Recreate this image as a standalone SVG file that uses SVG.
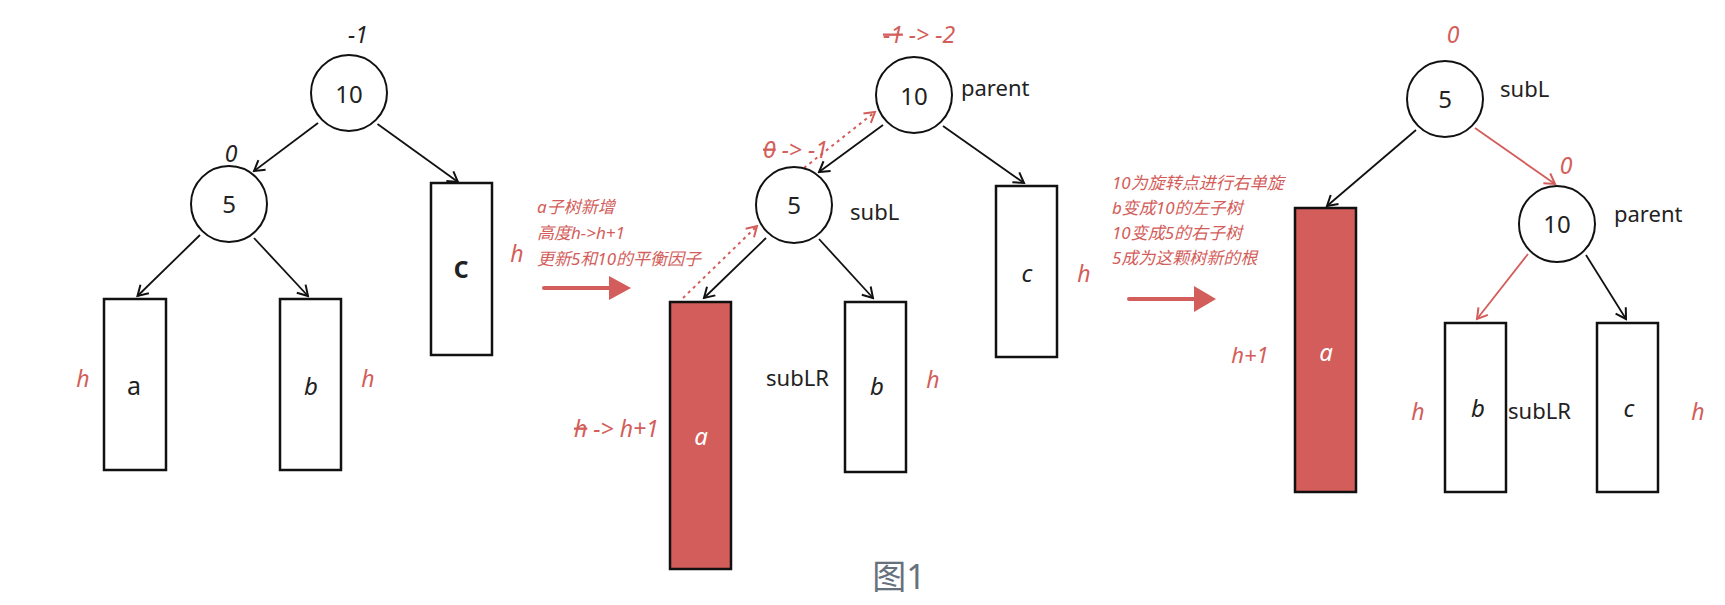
<svg xmlns="http://www.w3.org/2000/svg" width="1725" height="605" viewBox="0 0 1725 605">
<style>
.nd{fill:#fff;stroke:#111;stroke-width:2}
.bx{fill:#fff;stroke:#111;stroke-width:2.5}
.bxr{fill:#d35d5a;stroke:#111;stroke-width:2.5}
.t{font-family:"Noto Sans","Noto Sans CJK SC",sans-serif;fill:#222}
.num{font-size:24px;text-anchor:middle}
.lbl{font-size:22px}
.it{font-style:italic}
.red{fill:#d35d5a}
.note{font-size:17px;font-style:italic;fill:#d35d5a}
.e{fill:none;stroke:#111;stroke-width:1.8}
.er{fill:none;stroke:#d35d5a;stroke-width:1.8}
.ed{fill:none;stroke:#d35d5a;stroke-width:2;stroke-dasharray:3 4}
</style>
<defs>
<marker id="ah" viewBox="-12 -8 14 16" markerWidth="14" markerHeight="16" refX="0" refY="0" orient="auto" markerUnits="userSpaceOnUse"><path d="M-10,-6 L0,0 L-10,6" fill="none" stroke="#111" stroke-width="2"/></marker>
<marker id="ahr" viewBox="-12 -8 14 16" markerWidth="14" markerHeight="16" refX="0" refY="0" orient="auto" markerUnits="userSpaceOnUse"><path d="M-10,-6 L0,0 L-10,6" fill="none" stroke="#d35d5a" stroke-width="2"/></marker>
</defs>
<rect width="1725" height="605" fill="#fff"/>

<g id="connectors">
<line class="e" x1="318" y1="123" x2="254" y2="171" marker-end="url(#ah)"/>
<line class="e" x1="377.5" y1="124" x2="458" y2="182" marker-end="url(#ah)"/>
<line class="e" x1="200" y1="235" x2="137.5" y2="296" marker-end="url(#ah)"/>
<line class="e" x1="254" y1="238" x2="308" y2="296" marker-end="url(#ah)"/>

<line class="e" x1="883" y1="125" x2="819" y2="172" marker-end="url(#ah)"/>
<line class="e" x1="943" y1="126" x2="1024" y2="183" marker-end="url(#ah)"/>
<line class="e" x1="766" y1="238" x2="704" y2="298" marker-end="url(#ah)"/>
<line class="e" x1="819" y1="239" x2="873" y2="298" marker-end="url(#ah)"/>
<line class="ed" x1="683" y1="298" x2="757" y2="226" marker-end="url(#ahr)"/>
<line class="ed" x1="804" y1="168" x2="875" y2="112" marker-end="url(#ahr)"/>

<line class="e" x1="1416" y1="130" x2="1327" y2="206" marker-end="url(#ah)"/>
<line class="er" x1="1475" y1="128" x2="1555" y2="184" marker-end="url(#ahr)"/>
<line class="er" x1="1528" y1="254" x2="1477" y2="319" marker-end="url(#ahr)"/>
<line class="e" x1="1586" y1="255" x2="1626" y2="319" marker-end="url(#ah)"/>

<line x1="544" y1="288" x2="612" y2="288" stroke="#d35d5a" stroke-width="4" stroke-linecap="round"/>
<polygon points="609,276 631,288 609,300" fill="#d35d5a"/>
<line x1="1129" y1="299" x2="1196" y2="299" stroke="#d35d5a" stroke-width="4" stroke-linecap="round"/>
<polygon points="1194,286 1216,299 1194,312" fill="#d35d5a"/>
</g>

<!-- Panel 1 -->
<g id="p1-n10">
<circle class="nd" cx="349" cy="93" r="38"/>
<text class="t num" x="349" y="103">10</text>
<text class="t it" x="358" y="43" font-size="23" text-anchor="middle">-1</text>
</g>
<g id="p1-n5">
<circle class="nd" cx="229" cy="204" r="38"/>
<text class="t num" x="229" y="213">5</text>
<text class="t it" x="231" y="162" font-size="23" text-anchor="middle">0</text>
</g>
<g id="p1-a">
<rect class="bx" x="104" y="299" width="62" height="171"/>
<text class="t" x="134" y="395" font-size="25" text-anchor="middle">a</text>
<text class="t it red" x="83" y="387" font-size="23" text-anchor="middle">h</text>
</g>
<g id="p1-b">
<rect class="bx" x="280" y="299" width="61" height="171"/>
<text class="t it" x="311" y="395" font-size="24" text-anchor="middle">b</text>
<text class="t it red" x="368" y="387" font-size="23" text-anchor="middle">h</text>
</g>
<g id="p1-c">
<rect class="bx" x="431" y="183" width="61" height="172"/>
<text class="t" x="461" y="278" font-size="30" font-weight="600" text-anchor="middle">c</text>
<text class="t it red" x="517" y="262" font-size="23" text-anchor="middle">h</text>
</g>
<g id="note1">
<text class="t note" x="537" y="213">a子树新增</text>
<text class="t note" x="537" y="239">高度h-&gt;h+1</text>
<text class="t note" x="537" y="265">更新5和10的平衡因子</text>
</g>

<!-- Panel 2 -->
<g id="p2-n10">
<circle class="nd" cx="914" cy="95" r="38"/>
<text class="t num" x="914" y="105">10</text>
<text class="t lbl" x="961" y="96">parent</text>
<text class="t it red" x="883" y="43" font-size="23"><tspan text-decoration="line-through">-1</tspan> -&gt; -2</text>
</g>
<g id="p2-n5">
<circle class="nd" cx="794" cy="205" r="38"/>
<text class="t num" x="794" y="214">5</text>
<text class="t lbl" x="850" y="220">subL</text>
<text class="t it red" x="763" y="158" font-size="23"><tspan text-decoration="line-through">0</tspan> -&gt; -1</text>
</g>
<g id="p2-a">
<rect class="bxr" x="670" y="302" width="61" height="267"/>
<text class="t it" x="701" y="445" font-size="24" text-anchor="middle" style="fill:#fff">a</text>
<text class="t it red" x="574" y="437" font-size="23"><tspan text-decoration="line-through">h</tspan> -&gt; h+1</text>
</g>
<g id="p2-b">
<rect class="bx" x="845" y="302" width="61" height="170"/>
<text class="t it" x="877" y="395" font-size="24" text-anchor="middle">b</text>
<text class="t lbl" x="766" y="386">subLR</text>
<text class="t it red" x="933" y="388" font-size="23" text-anchor="middle">h</text>
</g>
<g id="p2-c">
<rect class="bx" x="996" y="186" width="61" height="171"/>
<text class="t it" x="1027" y="282" font-size="24" text-anchor="middle">c</text>
<text class="t it red" x="1084" y="282" font-size="23" text-anchor="middle">h</text>
</g>
<g id="note2">
<text class="t note" x="1112" y="189">10为旋转点进行右单旋</text>
<text class="t note" x="1112" y="214">b变成10的左子树</text>
<text class="t note" x="1112" y="239">10变成5的右子树</text>
<text class="t note" x="1112" y="264">5成为这颗树新的根</text>
</g>

<!-- Panel 3 -->
<g id="p3-n5">
<circle class="nd" cx="1445" cy="99" r="38"/>
<text class="t num" x="1445" y="108">5</text>
<text class="t lbl" x="1500" y="97">subL</text>
<text class="t it red" x="1453" y="43" font-size="23" text-anchor="middle">0</text>
</g>
<g id="p3-n10">
<circle class="nd" cx="1557" cy="224" r="38"/>
<text class="t num" x="1557" y="233">10</text>
<text class="t lbl" x="1614" y="222">parent</text>
<text class="t it red" x="1566" y="174" font-size="23" text-anchor="middle">0</text>
</g>
<g id="p3-a">
<rect class="bxr" x="1295" y="208" width="61" height="284"/>
<text class="t it" x="1326" y="361" font-size="24" text-anchor="middle" style="fill:#fff">a</text>
<text class="t it red" x="1250" y="363" font-size="22" text-anchor="middle">h+1</text>
</g>
<g id="p3-b">
<rect class="bx" x="1445" y="323" width="61" height="169"/>
<text class="t it" x="1478" y="417" font-size="24" text-anchor="middle">b</text>
<text class="t lbl" x="1508" y="419">subLR</text>
<text class="t it red" x="1418" y="420" font-size="23" text-anchor="middle">h</text>
</g>
<g id="p3-c">
<rect class="bx" x="1597" y="323" width="61" height="169"/>
<text class="t it" x="1629" y="417" font-size="24" text-anchor="middle">c</text>
<text class="t it red" x="1698" y="420" font-size="23" text-anchor="middle">h</text>
</g>

<g id="caption">
<text class="t" x="899" y="589" font-size="34" text-anchor="middle" style="fill:#66717b">图1</text>
</g>
</svg>
